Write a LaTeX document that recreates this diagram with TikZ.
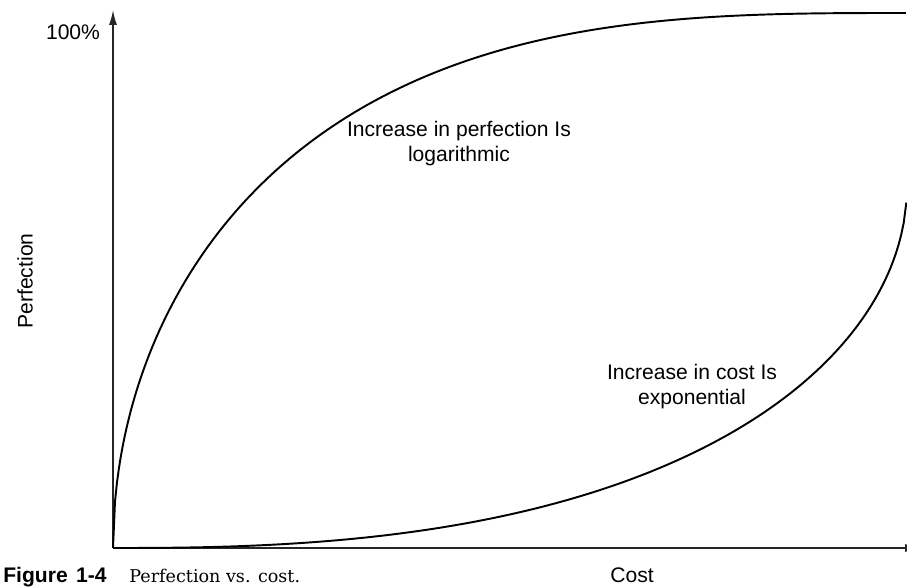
\documentclass[tikz,border=0pt]{standalone}
\usepackage{fontspec}
\setmainfont{Liberation Sans}
\newfontfamily\capserif{DejaVu Serif}
\newfontfamily\capsans{Liberation Sans}
\usepackage{tikz}
\usetikzlibrary{positioning,arrows.meta}

\tikzset{
  axis/.style={line width=0.8pt, black!85, -{Latex[length=0.3cm,width=0.16cm]}},
  curve/.style={line width=1.1pt, black},
  lbl/.style={inner sep=0pt, align=center, font=\fontsize{12}{14.2}\selectfont},
}

\begin{document}
\begin{tikzpicture}[x=0.02cm, y=-0.02cm]
\useasboundingbox (0,0) rectangle (907,587);

% Axes
\coordinate (origin) at (113,548);
\coordinate (ytip) at (113,10);
\coordinate (xtip) at (920,548);
\draw[axis] (origin) -- (ytip);
\draw[axis] (origin) -- (xtip);

% Perfection curve (logarithmic)
\draw[curve] plot[domain=0:1, samples=400, variable=\u]
  ({113+794*\u}, {548-535*sqrt(1-(1-\u)^3)});

% Cost curve (exponential)
\draw[curve] plot[domain=0:1, samples=300, variable=\u]
  ({113+794*\u}, {186+362*sqrt(1-\u*\u*sqrt(\u))});

% Curve labels
\node[lbl] (loglbl) at (459,144) {Increase in perfection Is\\logarithmic};
\node[lbl] (explbl) at (692,387) {Increase in cost Is\\exponential};

% Axis labels
\node[lbl] (ymax) at (73,32) {100\%};
\node[lbl, rotate=90] (ylbl) at (25,281) {Perfection};
\node[lbl, anchor=base] (xlbl) at (632,583) {Cost};

% Caption
\node[inner sep=0pt, anchor=base west] (figno) at (3,583)
  {\capsans\bfseries\fontsize{12}{14}\selectfont Figure\hspace{0.4em}1-4};
\node[inner sep=0pt, anchor=base west] (figcap) at (129,583)
  {\capserif\fontsize{10}{12}\selectfont Perfection vs. cost.};
\end{tikzpicture}
\end{document}
